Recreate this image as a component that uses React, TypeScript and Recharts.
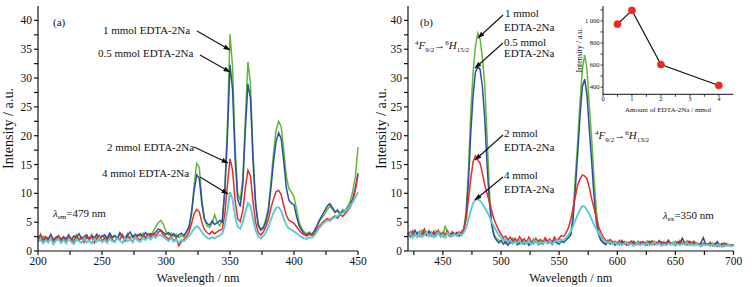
import React from 'react'
import { LineChart, Line, XAxis, YAxis, Label } from 'recharts'

const FONT = '"Liberation Serif", "Times New Roman", serif'
const GREEN = '#62b834'
const BLUE = '#2c4fa3'
const RED = '#ec2a25'
const CYAN = '#5ccad5'
const INK = '#111'

const STEP = 2

// (a) excitation spectra, lambda_em = 479 nm, 200..450 nm every 2 nm
const EXC_START = 200
const exc1mmol = [
  2.4, 1.8, 2.6, 2.1, 1.5, 2.7, 2.2, 1.9, 2.5, 2.0,
  2.3, 1.7, 2.6, 2.2, 1.9, 2.8, 2.1, 2.4, 1.8, 2.6,
  2.2, 2.9, 2.0, 2.5, 1.8, 2.7, 2.3, 2.0, 2.8, 2.2,
  2.6, 2.1, 2.9, 2.4, 2.0, 3.0, 2.3, 2.7, 2.2, 2.9,
  2.5, 3.1, 2.4, 3.0, 2.6, 3.4, 4.2, 4.9, 5.3, 4.6,
  3.4, 2.8, 3.1, 2.5, 2.9, 2.3, 2.7, 2.4, 3.2, 4.0,
  6.5, 11.5, 15.2, 14.5, 9.0, 5.5, 4.4, 4.1, 4.8, 6.3,
  5.0, 4.4, 5.6, 11.0, 22.0, 37.6, 32.0, 18.0, 10.0, 8.8,
  12.5, 23.0, 32.8, 29.0, 17.0, 8.5, 4.8, 3.8, 4.2, 5.5,
  7.5, 12.0, 17.0, 21.0, 22.5, 21.5, 17.5, 13.0, 10.8, 10.2,
  9.4, 7.2, 5.0, 3.9, 3.3, 3.0, 3.3, 2.9, 3.6, 4.3,
  5.2, 5.8, 6.4, 7.2, 7.8, 7.3, 6.6, 7.0, 6.5, 7.2,
  7.0, 7.8, 8.6, 10.5, 13.0, 18.0,
]
const exc05mmol = [
  2.2, 2.7, 1.9, 2.5, 2.1, 2.9, 1.8, 2.4, 2.6, 2.0,
  2.5, 2.1, 2.8, 1.9, 2.6, 2.3, 3.0, 2.2, 2.5, 2.8,
  2.0, 2.6, 2.3, 2.9, 2.1, 2.5, 2.8, 2.2, 3.1, 2.4,
  2.7, 2.2, 3.2, 2.5, 2.3, 2.8, 3.3, 2.4, 2.9, 2.6,
  3.0, 2.5, 3.2, 2.7, 3.0, 2.8, 3.3, 3.8, 3.6, 3.2,
  2.9, 3.2, 2.6, 3.0, 2.4, 2.8, 3.1, 2.7, 3.4, 4.2,
  6.8, 10.5, 13.2, 12.6, 8.2, 5.6, 4.8, 4.5, 5.2, 4.6,
  4.9, 5.3, 5.0, 10.5, 20.0, 32.3, 28.0, 16.0, 9.0, 7.7,
  11.5, 21.0, 29.0, 26.5, 15.5, 8.0, 4.5, 3.6, 4.0, 5.0,
  7.0, 11.0, 15.5, 19.0, 20.5, 19.5, 15.5, 11.0, 8.8, 8.3,
  8.0, 6.0, 4.4, 3.6, 3.0, 2.8, 3.1, 2.8, 3.5, 4.4,
  5.4, 6.2, 7.0, 7.8, 8.2, 7.5, 6.8, 7.1, 6.4, 6.9,
  6.8, 7.4, 8.0, 9.2, 11.0, 13.5,
]
const exc2mmol = [
  2.0, 2.9, 1.5, 2.4, 1.8, 2.6, 1.3, 2.2, 2.7, 1.6,
  2.3, 1.5, 2.5, 2.0, 1.4, 2.6, 1.8, 2.3, 1.5, 2.4,
  1.9, 2.5, 1.4, 2.2, 2.7, 1.7, 2.3, 1.5, 2.5, 2.0,
  1.6, 2.4, 2.0, 2.8, 1.7, 2.5, 2.1, 1.6, 2.7, 2.2,
  1.9, 2.6, 2.2, 2.9, 2.4, 3.0, 2.6, 3.3, 3.5, 2.8,
  2.5, 2.0, 2.6, 1.7, 2.2, 0.9, 1.6, 2.0, 2.5, 3.3,
  4.8, 6.5, 7.2, 6.8, 5.0, 3.7, 3.2, 2.9, 3.4, 3.0,
  3.3, 3.6, 3.8, 6.5, 11.5, 16.0, 14.0, 8.8, 5.6, 5.1,
  7.0, 11.0, 14.0, 13.0, 8.5, 5.0, 3.2, 2.8, 3.3, 4.2,
  5.5, 7.5, 9.0, 10.3, 10.5, 9.8, 7.8, 6.2, 5.3, 5.1,
  4.8, 4.2, 3.6, 3.1, 2.8, 2.6, 2.9, 2.7, 3.0, 3.8,
  4.4, 4.9, 5.3, 5.6, 5.4, 5.8, 6.1, 5.7, 6.3, 6.0,
  6.5, 7.0, 7.6, 8.8, 10.6, 13.2,
]
const exc4mmol = [
  1.6, 2.1, 1.3, 1.9, 1.5, 2.2, 1.2, 1.8, 2.0, 1.4,
  1.9, 1.3, 2.1, 1.6, 1.2, 2.0, 1.7, 1.4, 2.2, 1.5,
  1.8, 1.3, 2.1, 1.6, 2.3, 1.5, 1.9, 1.4, 2.2, 1.7,
  1.5, 2.2, 1.8, 1.4, 2.3, 1.7, 2.0, 1.5, 2.4, 1.8,
  1.6, 2.3, 1.9, 2.5, 2.0, 2.6, 2.3, 2.8, 2.7, 2.4,
  2.1, 1.7, 2.3, 1.6, 2.0, 1.5, 1.9, 1.7, 2.2, 2.6,
  3.2, 3.9, 4.3, 4.0, 3.3, 2.7, 2.3, 2.1, 2.4, 2.2,
  2.5, 2.7, 3.0, 4.5, 7.0, 10.2, 9.0, 6.0, 4.2, 3.9,
  5.0, 6.8, 8.3, 7.8, 5.5, 3.6, 2.5, 2.2, 2.6, 3.2,
  4.2, 5.5, 6.6, 7.5, 7.6, 7.0, 5.6, 4.5, 3.9, 3.7,
  3.4, 3.1, 2.7, 2.4, 2.2, 2.1, 2.4, 2.3, 2.7, 3.4,
  4.1, 4.6, 5.0, 5.3, 5.2, 5.6, 5.9, 6.1, 6.4, 6.6,
  6.9, 7.3, 7.8, 8.5, 9.3, 10.2,
]

// (b) emission spectra, lambda_ex = 350 nm, 420..700 nm every 2 nm
const EM_START = 420
const em1mmol = [
  3.0, 2.4, 3.4, 2.7, 3.2, 2.5, 3.6, 2.8, 3.1, 2.6,
  3.3, 2.7, 3.5, 2.9, 3.1, 2.5, 4.4, 3.0, 2.8, 3.3,
  2.9, 3.2, 2.7, 3.4, 3.8, 7.0, 14.0, 24.0, 31.0, 35.5,
  37.8, 36.8, 33.5, 29.0, 20.0, 10.5, 4.8, 2.9, 2.2, 1.9,
  1.6, 2.1, 1.3, 1.8, 1.4, 2.2, 1.5, 1.9, 1.2, 1.7,
  2.0, 1.4, 1.8, 1.3, 2.1, 1.5, 1.9, 1.3, 1.7, 2.2,
  1.5, 1.9, 1.4, 2.0, 1.6, 2.2, 1.8, 1.5, 2.1, 2.4,
  3.0, 6.5, 13.0, 19.0, 26.0, 31.5, 34.0, 31.5, 25.0, 19.5,
  12.5, 7.0, 3.5, 2.0, 1.6, 1.3, 1.9, 1.4, 1.7, 1.2,
  1.5, 1.2, 1.9, 1.3, 1.6, 1.1, 1.8, 1.4, 1.2, 1.7,
  1.3, 1.6, 1.1, 1.8, 1.4, 1.2, 1.7, 1.3, 1.5, 1.2,
  1.6, 1.3, 1.8, 1.4, 1.1, 1.7, 1.3, 1.9, 1.5, 1.2,
  1.8, 1.4, 1.6, 1.2, 1.5, 1.1, 1.4, 1.0, 1.3, 1.2,
  0.9, 1.4, 1.1, 1.3, 0.8, 1.2, 1.0, 1.3, 0.9, 1.1,
  1.0,
]
const em05mmol = [
  2.8, 3.3, 2.5, 3.6, 2.9, 3.4, 2.6, 3.2, 2.7, 3.5,
  2.8, 3.1, 2.6, 3.4, 2.9, 3.2, 2.7, 3.0, 2.5, 3.1,
  2.8, 3.2, 2.6, 3.0, 3.6, 6.0, 12.0, 20.5, 27.0, 31.0,
  32.0, 31.5, 28.5, 23.0, 15.0, 8.5, 4.5, 2.6, 1.9, 1.4,
  1.8, 1.2, 1.6, 1.0, 1.7, 1.3, 1.9, 1.1, 1.5, 1.8,
  1.2, 1.7, 1.0, 1.6, 1.3, 1.9, 1.1, 1.5, 1.2, 1.8,
  1.3, 1.6, 1.1, 1.8, 1.4, 1.2, 1.7, 1.5, 1.9, 2.3,
  2.8, 5.5, 11.0, 17.0, 23.5, 28.5, 29.8, 27.0, 21.0, 15.5,
  9.5, 5.0, 2.8, 1.8, 1.4, 1.1, 1.6, 1.2, 1.5, 1.0,
  1.4, 1.1, 1.7, 1.2, 1.5, 1.0, 1.6, 1.3, 1.1, 1.5,
  1.2, 1.6, 1.0, 1.4, 1.7, 1.1, 1.5, 1.2, 1.8, 1.3,
  1.5, 1.1, 1.7, 1.2, 1.4, 1.0, 1.6, 1.3, 2.2, 1.4,
  1.2, 1.7, 1.1, 1.5, 1.3, 1.0, 1.4, 2.3, 1.2, 1.0,
  1.3, 0.9, 1.2, 1.6, 1.0, 1.3, 0.8, 1.2, 1.0, 0.9,
  1.1,
]
const em2mmol = [
  3.2, 2.6, 3.5, 2.9, 2.4, 3.3, 2.7, 3.8, 2.8, 3.1,
  2.6, 3.4, 2.9, 3.6, 2.5, 3.2, 2.8, 3.5, 2.7, 3.3,
  3.0, 2.7, 3.3, 3.1, 3.9, 5.5, 9.0, 12.5, 15.5, 16.5,
  15.8, 15.2, 13.5, 11.5, 10.0, 8.5, 7.0, 5.5, 4.5, 3.6,
  2.9, 2.3, 2.6, 1.9, 2.4, 1.7, 2.2, 1.6, 2.5, 1.8,
  2.1, 1.5, 2.4, 1.7, 1.3, 2.2, 1.6, 2.0, 1.4, 2.3,
  1.7, 2.1, 1.5, 2.4, 1.8, 2.2, 2.7, 2.5, 3.2, 4.0,
  5.5, 7.5, 9.5, 11.5, 12.5, 13.2, 13.0, 12.5, 11.0, 9.0,
  7.5, 5.8, 4.2, 3.2, 2.4, 1.9, 1.6, 2.0, 1.4, 1.7,
  1.3, 1.8, 1.2, 1.6, 1.0, 1.5, 1.2, 1.7, 1.3, 1.1,
  1.6, 1.2, 1.5, 1.0, 1.4, 1.8, 1.1, 1.5, 1.2, 1.6,
  1.1, 1.4, 1.9, 1.2, 1.5, 1.0, 1.3, 1.7, 1.2, 1.4,
  1.0, 1.5, 1.2, 1.7, 1.1, 1.3, 0.9, 1.4, 1.1, 1.2,
  1.5, 1.0, 1.3, 0.8, 1.2, 1.0, 1.4, 0.9, 1.1, 1.0,
  0.9,
]
const em4mmol = [
  2.6, 3.1, 2.3, 2.9, 2.5, 3.2, 2.4, 2.8, 3.3, 2.5,
  3.0, 2.4, 2.8, 3.2, 2.6, 2.9, 2.3, 3.1, 2.7, 2.5,
  2.9, 2.6, 3.1, 2.7, 3.2, 4.0, 5.5, 7.0, 8.3, 8.9,
  9.0, 8.7, 8.2, 7.5, 6.8, 6.0, 5.0, 4.2, 3.5, 2.8,
  2.3, 1.8, 2.1, 1.5, 1.9, 1.3, 1.7, 1.4, 1.8, 1.2,
  1.6, 1.3, 1.9, 1.1, 1.5, 1.8, 1.2, 1.6, 1.3, 1.7,
  1.4, 1.8, 1.2, 1.6, 1.9, 1.5, 2.0, 1.8, 2.3, 2.8,
  3.4, 4.3, 5.3, 6.3, 7.2, 7.8, 7.7, 7.1, 6.4, 5.5,
  4.6, 3.8, 3.1, 2.5, 2.0, 1.7, 1.4, 1.6, 1.2, 1.5,
  1.1, 1.4, 1.0, 1.3, 1.5, 1.1, 1.3, 0.9, 1.2, 1.4,
  1.0, 1.3, 1.1, 1.4, 1.0, 1.2, 1.5, 1.1, 1.3, 0.9,
  1.2, 1.0, 1.3, 1.1, 1.4, 0.9, 1.2, 1.0, 1.3, 1.1,
  1.4, 1.0, 1.2, 0.9, 1.3, 1.1, 0.8, 1.2, 1.0, 1.1,
  0.9, 1.2, 0.8, 1.0, 1.1, 0.7, 1.0, 0.9, 1.1, 0.8,
  1.0,
]

// inset: integrated intensity vs amount of EDTA-2Na
const insetAmount = [0.5, 1, 2, 4]
const insetIntensity = [970, 1095, 605, 415]

const excTicks = [200, 225, 250, 275, 300, 325, 350, 375, 400, 425, 450]
const emTicks = [425, 450, 475, 500, 525, 550, 575, 600, 625, 650, 675, 700]
const intensityTicks = [0, 2.5, 5, 7.5, 10, 12.5, 15, 17.5, 20, 22.5, 25, 27.5, 30, 32.5, 35, 37.5, 40]
const insetXTicks = [0, 0.5, 1, 1.5, 2, 2.5, 3, 3.5, 4]
const insetYTicks = [400, 500, 600, 700, 800, 900, 1000, 1100]

function buildRows(start: number, cols: Record<string, number[]>) {
  const keys = Object.keys(cols)
  return cols[keys[0]].map((_, i) => {
    const row: Record<string, number> = { wl: start + i * STEP }
    keys.forEach(k => { row[k] = cols[k][i] })
    return row
  })
}

const excRows = buildRows(EXC_START, { g: exc1mmol, b: exc05mmol, r: exc2mmol, c: exc4mmol })
const emRows = buildRows(EM_START, { g: em1mmol, b: em05mmol, r: em2mmol, c: em4mmol })
const insetRows = insetAmount.map((x, i) => ({ x, v: insetIntensity[i] }))

const tickStyle = { fill: INK, fontSize: 11.5, fontFamily: FONT }
const axisLine = { stroke: INK, strokeWidth: 1.2 }
const everyFive = (v: number) => (v % 5 === 0 ? String(v) : '')
const everyFifty = (v: number) => (v % 50 === 0 ? String(v) : '')

const SERIES = [
  { key: 'g', color: GREEN, width: 1.5 },
  { key: 'b', color: BLUE, width: 1.5 },
  { key: 'r', color: RED, width: 1.5 },
  { key: 'c', color: CYAN, width: 1.9 },
]

function Spectrum({
  rows, domain, ticks, width, right, yTitleOffset,
}: {
  rows: Record<string, number>[]
  domain: [number, number]
  ticks: number[]
  width: number
  right: number
  yTitleOffset: number
}) {
  return (
    <LineChart width={width} height={287} data={rows} margin={{ top: 6, right, bottom: 0, left: 0 }}>
      <XAxis
        dataKey="wl"
        type="number"
        domain={domain}
        ticks={ticks}
        interval={0}
        tickFormatter={everyFifty}
        tick={tickStyle}
        axisLine={axisLine}
        tickLine={axisLine}
        tickSize={4}
        tickMargin={2}
        height={36}
      >
        <Label
          value="Wavelength / nm"
          position="insideBottom"
          offset={5}
          style={{ fill: INK, fontSize: 12.2, fontFamily: FONT }}
        />
      </XAxis>
      <XAxis xAxisId="top" orientation="top" type="number" domain={domain} height={0} tick={false} tickLine={false} axisLine={axisLine} />
      <YAxis
        type="number"
        domain={[0, 42.5]}
        ticks={intensityTicks}
        interval={0}
        tickFormatter={everyFive}
        tick={tickStyle}
        axisLine={axisLine}
        tickLine={axisLine}
        tickSize={4}
        tickMargin={2}
        width={38}
      >
        <Label
          value="Intensity / a.u."
          angle={-90}
          position="insideLeft"
          offset={yTitleOffset}
          style={{ fill: INK, fontSize: 14.2, fontFamily: FONT, textAnchor: 'middle' }}
        />
      </YAxis>
      <YAxis yAxisId="right" orientation="right" type="number" domain={[0, 42.5]} width={0} tick={false} tickLine={false} axisLine={axisLine} />
      {SERIES.map(s => (
        <Line
          key={s.key}
          dataKey={s.key}
          type="linear"
          stroke={s.color}
          strokeWidth={s.width}
          dot={false}
          isAnimationActive={false}
        />
      ))}
    </LineChart>
  )
}

function Inset() {
  const small = { fill: INK, fontSize: 6.5, fontFamily: FONT }
  return (
    <LineChart width={165} height={115} data={insetRows} margin={{ top: 6, right: 6.7, bottom: 0, left: 0 }}>
      <XAxis
        dataKey="x"
        type="number"
        domain={[0, 4.5]}
        ticks={insetXTicks}
        interval={0}
        tickFormatter={(v: number) => (Number.isInteger(v) ? String(v) : '')}
        tick={small}
        axisLine={{ stroke: INK, strokeWidth: 1 }}
        tickLine={{ stroke: INK, strokeWidth: 0.8 }}
        tickSize={2.5}
        tickMargin={0}
        height={20.7}
      >
        <Label value="Amount of EDTA-2Na / mmol" position="insideBottom" offset={3} style={{ ...small, fontSize: 7 }} />
      </XAxis>
      <XAxis xAxisId="top" orientation="top" type="number" domain={[0, 4.5]} height={0} tick={false} tickLine={false} axisLine={{ stroke: INK, strokeWidth: 1 }} />
      <YAxis
        type="number"
        domain={[335, 1135]}
        ticks={insetYTicks}
        interval={0}
        tickFormatter={(v: number) => (v === 1000 ? '1\u00a0000' : v % 200 === 0 ? String(v) : '')}
        tick={small}
        axisLine={{ stroke: INK, strokeWidth: 1 }}
        tickLine={{ stroke: INK, strokeWidth: 0.8 }}
        tickSize={2.5}
        tickMargin={1}
        width={28}
      >
        <Label
          value="Intensity / a.u."
          angle={-90}
          position="insideLeft"
          offset={4}
          style={{ ...small, fontSize: 7.8, textAnchor: 'middle' }}
        />
      </YAxis>
      <YAxis yAxisId="right" orientation="right" type="number" domain={[335, 1135]} width={0} tick={false} tickLine={false} axisLine={{ stroke: INK, strokeWidth: 1 }} />
      <Line
        dataKey="v"
        type="linear"
        stroke={INK}
        strokeWidth={1.2}
        dot={{ r: 3.6, fill: RED, stroke: RED, strokeWidth: 0.5 }}
        isAnimationActive={false}
      />
    </LineChart>
  )
}

const arrows = [
  [197, 31, 230, 50],
  [200, 55, 230, 72],
  [194, 147, 228, 163],
  [200, 177, 228, 194],
  [503, 15, 478, 38],
  [503, 43, 475, 68],
  [503, 135, 475, 160],
  [503, 177, 475, 200],
]

function Annotations() {
  const t = { fontFamily: FONT, fontSize: 11, fill: INK }
  const sub = { fontSize: 7 }
  return (
    <svg width={755} height={287} style={{ position: 'absolute', left: 0, top: 0, pointerEvents: 'none' }}>
      <defs>
        <marker id="head" markerWidth={7} markerHeight={5} refX={6.5} refY={2.5} orient="auto" markerUnits="userSpaceOnUse">
          <path d="M0,0 L7,2.5 L0,5 z" fill={INK} />
        </marker>
      </defs>
      {arrows.map(([x1, y1, x2, y2], i) => (
        <line key={i} x1={x1} y1={y1} x2={x2} y2={y2} stroke={INK} strokeWidth={1.1} markerEnd="url(#head)" />
      ))}
      <g {...t}>
        <text x={53} y={26}>(a)</text>
        <text x={103} y={34}>1 mmol EDTA-2Na</text>
        <text x={98} y={57}>0.5 mmol EDTA-2Na</text>
        <text x={107} y={151}>2 mmol EDTA-2Na</text>
        <text x={102} y={177}>4 mmol EDTA-2Na</text>
        <text x={53} y={217}>
          <tspan fontStyle="italic">λ</tspan>
          <tspan {...sub} dy={2}>em</tspan>
          <tspan dy={-2}>=479 nm</tspan>
        </text>

        <text x={420} y={26}>(b)</text>
        <text x={415} y={49}>
          <tspan {...sub} dy={-4}>4</tspan>
          <tspan fontStyle="italic" dy={4}>F</tspan>
          <tspan {...sub} dy={3}>9/2</tspan>
          <tspan dy={-3}>→</tspan>
          <tspan {...sub} dy={-4}>6</tspan>
          <tspan fontStyle="italic" dy={4}>H</tspan>
          <tspan {...sub} dy={3}>15/2</tspan>
        </text>
        <text x={505} y={17}>1 mmol</text>
        <text x={504} y={31}>EDTA-2Na</text>
        <text x={504} y={46}>0.5 mmol</text>
        <text x={504} y={57}>EDTA-2Na</text>
        <text x={504} y={137}>2 mmol</text>
        <text x={504} y={151}>EDTA-2Na</text>
        <text x={504} y={179}>4 mmol</text>
        <text x={504} y={193}>EDTA-2Na</text>
        <text x={595} y={139}>
          <tspan {...sub} dy={-4}>4</tspan>
          <tspan fontStyle="italic" dy={4}>F</tspan>
          <tspan {...sub} dy={3}>9/2</tspan>
          <tspan dy={-3}>→</tspan>
          <tspan {...sub} dy={-4}>6</tspan>
          <tspan fontStyle="italic" dy={4}>H</tspan>
          <tspan {...sub} dy={3}>13/2</tspan>
        </text>
        <text x={663} y={219}>
          <tspan fontStyle="italic">λ</tspan>
          <tspan {...sub} dy={2}>ex</tspan>
          <tspan dy={-2}>=350 nm</tspan>
        </text>
      </g>
    </svg>
  )
}

export default function App() {
  return (
    <div style={{ position: 'absolute', left: 0, top: 0, width: 755, height: 287, background: '#fff', fontFamily: FONT }}>
      <div style={{ position: 'absolute', left: 0, top: 0 }}>
        <Spectrum rows={excRows} domain={[200, 450]} ticks={excTicks} width={370} right={12} yTitleOffset={8} />
      </div>
      <div style={{ position: 'absolute', left: 370, top: 0 }}>
        <Spectrum rows={emRows} domain={[420, 700]} ticks={emTicks} width={385} right={21.5} yTitleOffset={11} />
      </div>
      <div style={{ position: 'absolute', left: 575, top: 0 }}>
        <Inset />
      </div>
      <Annotations />
    </div>
  )
}
